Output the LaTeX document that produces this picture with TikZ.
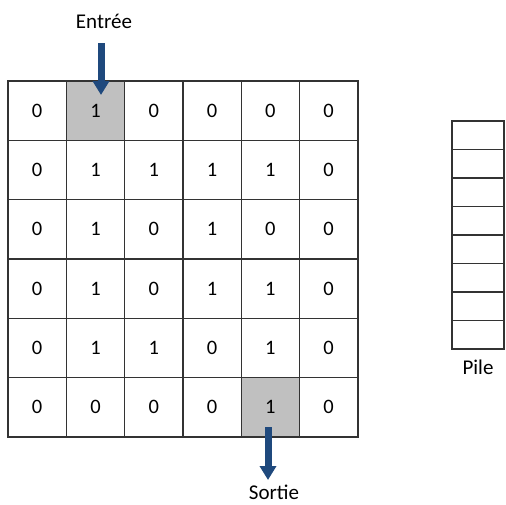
\documentclass[tikz,border=0pt]{standalone}
\usepackage{fontspec}
\setmainfont{Carlito}
\usetikzlibrary{arrows.meta}
\definecolor{gridline}{HTML}{333333}
\definecolor{arrowblue}{HTML}{1F497D}
\definecolor{cellgray}{HTML}{C0C0C0}
\tikzset{
  cell/.style={draw=gridline, line width=1.4pt, minimum width=58.3pt, minimum height=59.3pt, inner sep=0pt, anchor=center, font=\fontsize{20.5}{22}\selectfont},
  graycell/.style={cell, fill=cellgray},
  pilecell/.style={draw=gridline, line width=1.4pt, minimum width=52pt, minimum height=28.5pt, inner sep=0pt},
  lbl/.style={font=\fontsize{21}{22}\selectfont, inner sep=0pt},
  bigarrow/.style={draw=arrowblue, line width=7pt, -{Triangle[width=16pt,length=14pt]}}
}
\begin{document}
\begin{tikzpicture}[x=1pt,y=-1pt]
\useasboundingbox (0,0) rectangle (506,504);
\foreach \row/\vals in {0/{0,1,0,0,0,0},1/{0,1,1,1,1,0},2/{0,1,0,1,0,0},3/{0,1,0,1,1,0},4/{0,1,1,0,1,0},5/{0,0,0,0,1,0}}{
  \foreach \v [count=\c from 0] in \vals {
    \pgfmathtruncatemacro{\isgray}{(\row==0 && \c==1) || (\row==5 && \c==4) ? 1 : 0}
    \ifnum\isgray=1
      \node[graycell] (c-\row-\c) at ({8+58.3*(\c+0.5)},{81+59.3*(\row+0.5)}) {\v};
    \else
      \node[cell] (c-\row-\c) at ({8+58.3*(\c+0.5)},{81+59.3*(\row+0.5)}) {\v};
    \fi
  }
}
\foreach \i in {0,...,7}{
  \node[pilecell] (p-\i) at (478,{121+28.5*(\i+0.5)}) {};
}
\node[lbl] (pile) at (478,367) {Pile};
\node[lbl] (entree) at (104,21) {Entrée};
\node[lbl] (sortie) at (274,492) {Sortie};
\coordinate (inA) at (101,43);
\coordinate (inB) at (101,95);
\coordinate (outA) at (268,427);
\coordinate (outB) at (268,480);
\draw[bigarrow] (inA) -- (inB);
\draw[bigarrow] (outA) -- (outB);
\end{tikzpicture}
\end{document}
